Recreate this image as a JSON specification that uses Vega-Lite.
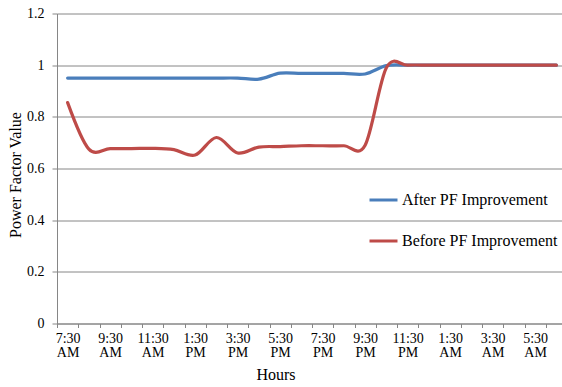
{
  "$schema": "https://vega.github.io/schema/vega-lite/v6.json",
  "width": 510,
  "height": 310,
  "autosize": "none",
  "padding": {"left": 57, "top": 13.5, "right": 0, "bottom": 63.5},
  "background": "white",
  "config": {
    "view": {"stroke": null},
    "font": "Liberation Serif",
    "axis": {"labelFont": "Liberation Serif", "titleFont": "Liberation Serif"},
    "legend": {"labelFont": "Liberation Serif"}
  },
  "data": {
    "values": [
      {"t": "7:30 AM", "s": "After PF Improvement", "v": 0.95},
      {"t": "8:30 AM", "s": "After PF Improvement", "v": 0.95},
      {"t": "9:30 AM", "s": "After PF Improvement", "v": 0.95},
      {"t": "10:30 AM", "s": "After PF Improvement", "v": 0.95},
      {"t": "11:30 AM", "s": "After PF Improvement", "v": 0.95},
      {"t": "12:30 PM", "s": "After PF Improvement", "v": 0.95},
      {"t": "1:30 PM", "s": "After PF Improvement", "v": 0.95},
      {"t": "2:30 PM", "s": "After PF Improvement", "v": 0.95},
      {"t": "3:30 PM", "s": "After PF Improvement", "v": 0.95},
      {"t": "4:30 PM", "s": "After PF Improvement", "v": 0.946},
      {"t": "5:30 PM", "s": "After PF Improvement", "v": 0.969},
      {"t": "6:30 PM", "s": "After PF Improvement", "v": 0.968},
      {"t": "7:30 PM", "s": "After PF Improvement", "v": 0.968},
      {"t": "8:30 PM", "s": "After PF Improvement", "v": 0.968},
      {"t": "9:30 PM", "s": "After PF Improvement", "v": 0.966},
      {"t": "10:30 PM", "s": "After PF Improvement", "v": 0.998},
      {"t": "11:30 PM", "s": "After PF Improvement", "v": 1.0},
      {"t": "12:30 AM", "s": "After PF Improvement", "v": 1.0},
      {"t": "1:30 AM", "s": "After PF Improvement", "v": 1.0},
      {"t": "2:30 AM", "s": "After PF Improvement", "v": 1.0},
      {"t": "3:30 AM", "s": "After PF Improvement", "v": 1.0},
      {"t": "4:30 AM", "s": "After PF Improvement", "v": 1.0},
      {"t": "5:30 AM", "s": "After PF Improvement", "v": 1.0},
      {"t": "6:30 AM", "s": "After PF Improvement", "v": 1.0},
      {"t": "7:30 AM", "s": "Before PF Improvement", "v": 0.855},
      {"t": "8:30 AM", "s": "Before PF Improvement", "v": 0.675},
      {"t": "9:30 AM", "s": "Before PF Improvement", "v": 0.677},
      {"t": "10:30 AM", "s": "Before PF Improvement", "v": 0.677},
      {"t": "11:30 AM", "s": "Before PF Improvement", "v": 0.678},
      {"t": "12:30 PM", "s": "Before PF Improvement", "v": 0.673},
      {"t": "1:30 PM", "s": "Before PF Improvement", "v": 0.652},
      {"t": "2:30 PM", "s": "Before PF Improvement", "v": 0.72},
      {"t": "3:30 PM", "s": "Before PF Improvement", "v": 0.66},
      {"t": "4:30 PM", "s": "Before PF Improvement", "v": 0.683},
      {"t": "5:30 PM", "s": "Before PF Improvement", "v": 0.685},
      {"t": "6:30 PM", "s": "Before PF Improvement", "v": 0.688},
      {"t": "7:30 PM", "s": "Before PF Improvement", "v": 0.688},
      {"t": "8:30 PM", "s": "Before PF Improvement", "v": 0.688},
      {"t": "9:30 PM", "s": "Before PF Improvement", "v": 0.69},
      {"t": "10:30 PM", "s": "Before PF Improvement", "v": 0.99},
      {"t": "11:30 PM", "s": "Before PF Improvement", "v": 1.0},
      {"t": "12:30 AM", "s": "Before PF Improvement", "v": 1.0},
      {"t": "1:30 AM", "s": "Before PF Improvement", "v": 1.0},
      {"t": "2:30 AM", "s": "Before PF Improvement", "v": 1.0},
      {"t": "3:30 AM", "s": "Before PF Improvement", "v": 1.0},
      {"t": "4:30 AM", "s": "Before PF Improvement", "v": 1.0},
      {"t": "5:30 AM", "s": "Before PF Improvement", "v": 1.0},
      {"t": "6:30 AM", "s": "Before PF Improvement", "v": 1.0}
    ]
  },
  "mark": {"type": "line", "interpolate": "cardinal", "strokeWidth": 3.2, "strokeCap": "round"},
  "encoding": {
    "x": {
      "field": "t",
      "type": "ordinal",
      "sort": null,
      "scale": {"type": "band", "paddingInner": 0, "paddingOuter": 0},
      "axis": {
        "title": "Hours",
        "titleFont": "Liberation Serif",
        "titleFontSize": 16,
        "titleFontWeight": "normal",
        "titleColor": "#000000",
        "titleX": 218.5,
        "titleY": 50.5,
        "titleBaseline": "middle",
        "titleAlign": "center",
        "labelAngle": 0,
        "labelFont": "Liberation Serif",
        "labelFontSize": 14,
        "labelColor": "#000000",
        "labelLineHeight": 14,
        "labelPadding": 4,
        "labelBaseline": "top",
        "labelExpr": "parseInt(split(datum.value, ':')[0]) % 2 == 1 ? split(datum.value, ' ') : ''",
        "tickBand": "extent",
        "tickSize": 4,
        "tickColor": "#868686",
        "domainColor": "#868686",
        "grid": false
      }
    },
    "y": {
      "field": "v",
      "type": "quantitative",
      "scale": {"domain": [0, 1.2], "nice": false, "zero": true},
      "axis": {
        "title": "Power Factor Value",
        "titleFont": "Liberation Serif",
        "titleFontSize": 16,
        "titleFontWeight": "normal",
        "titleColor": "#000000",
        "titleAngle": -90,
        "titleX": -42,
        "titleY": 161,
        "titleAlign": "center",
        "titleBaseline": "middle",
        "values": [0, 0.2, 0.4, 0.6, 0.8, 1, 1.2],
        "format": ".2~f",
        "labelFont": "Liberation Serif",
        "labelFontSize": 14,
        "labelColor": "#000000",
        "labelPadding": 8,
        "tickSize": 5,
        "tickColor": "#868686",
        "domainColor": "#868686",
        "grid": true,
        "gridColor": "#868686",
        "gridWidth": 1
      }
    },
    "color": {
      "field": "s",
      "type": "nominal",
      "scale": {
        "domain": ["After PF Improvement", "Before PF Improvement"],
        "range": ["#4A7EBB", "#BE4B48"]
      },
      "legend": {
        "title": null,
        "orient": "none",
        "legendX": 311,
        "legendY": 171,
        "symbolType": "stroke",
        "symbolSize": 784,
        "symbolStrokeWidth": 3,
        "labelFont": "Liberation Serif",
        "labelFontSize": 16,
        "labelColor": "#000000",
        "labelOffset": 3,
        "rowPadding": 17
      }
    }
  }
}
